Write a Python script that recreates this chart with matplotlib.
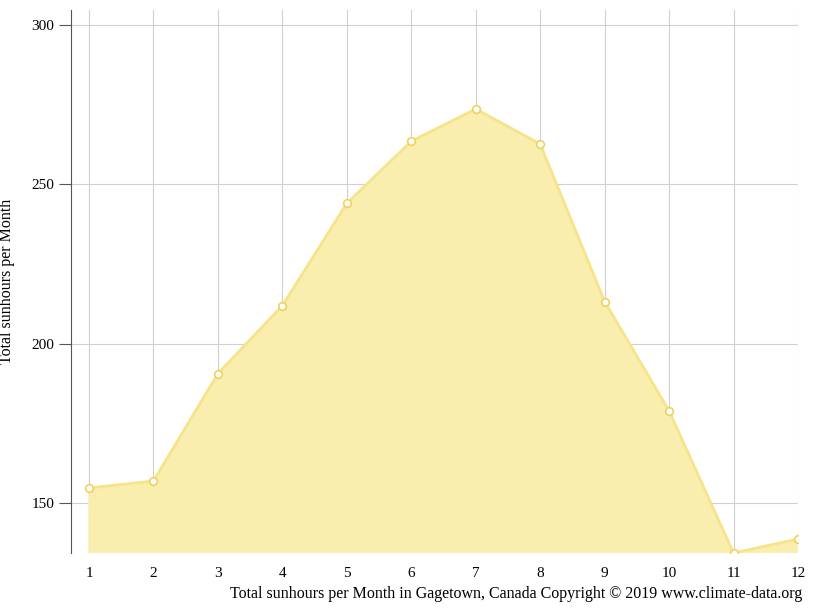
import matplotlib

matplotlib.use("Agg")
import matplotlib.pyplot as plt

months = list(range(1, 13))
sunhours = [154.7, 156.9, 190.6, 211.9, 244.0, 263.5, 273.6, 262.6, 213.2, 178.9, 134.3, 138.7]
yticks = [150, 200, 250, 300]

plt.rcParams["font.family"] = ["Liberation Serif", "DejaVu Serif"]

fig = plt.figure(figsize=(8.15, 6.11), dpi=100)
ax = fig.add_axes([0.0871, 0.0949, 0.892, 0.889])

ax.fill_between(months, sunhours, 0, color="#f9eeae", zorder=2)
ax.plot(months, sunhours, color="#f7e38a", lw=2, zorder=3)
ax.plot(months, sunhours, "o", ms=5.5, mfc="white", mec="#f2d15a", mew=1.2, zorder=4)

ax.set_xlim(0.72, 12.0)
ax.set_ylim(134.3, 304.7)
ax.set_xticks(months)
ax.set_yticks(yticks)
ax.grid(True, color="#d0d0d0", lw=0.8, zorder=0)
ax.set_axisbelow(True)

for s in ("top", "right", "bottom"):
    ax.spines[s].set_visible(False)
ax.spines["left"].set_color("#555555")
ax.tick_params(axis="x", length=0, pad=10, labelsize=11)
ax.tick_params(axis="y", length=9, color="#555555", labelsize=11, direction="out", pad=3)

ax.set_ylabel("Total sunhours per Month", fontsize=11.5, labelpad=12)
fig.text(0.984, 0.015, "Total sunhours per Month in Gagetown, Canada Copyright © 2019 www.climate-data.org",
         ha="right", va="bottom", fontsize=11.5)

fig.savefig("out.png", dpi=100)
